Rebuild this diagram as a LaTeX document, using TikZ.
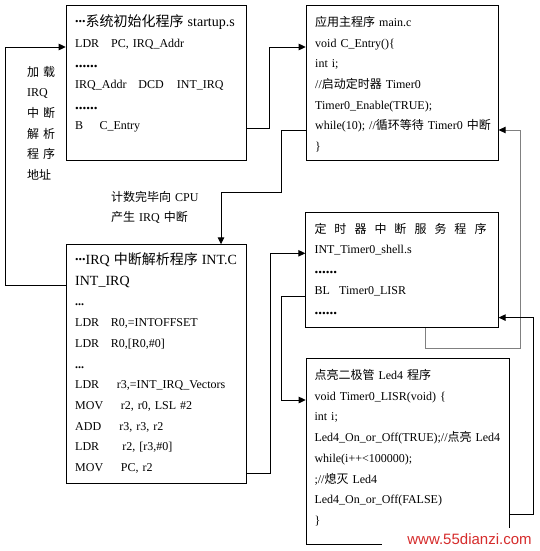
\documentclass[tikz,border=0pt]{standalone}
\usepackage{fontspec}
\setmainfont{Liberation Serif}
\newfontfamily\cjk{Noto Sans CJK SC}
\newfontfamily\webfont{Liberation Sans}
\usetikzlibrary{arrows.meta}

\newcommand{\zh}[1]{{\cjk #1}}
\newcommand{\dotrow}{{\fontsize{15}{20.7}\selectfont\textbf{......}}}
\newcommand{\middots}{\raisebox{4pt}{\textbf{...}}}
\newcommand{\headline}[1]{{\fontsize{14}{20.7}\selectfont #1}}
\definecolor{linegray}{RGB}{128,128,128}
\definecolor{markred}{RGB}{214,44,44}

\begin{document}
\begin{tikzpicture}[
        x=1pt, y=-1pt,
        font=\fontsize{12}{20.7}\selectfont,
        box/.style={
            draw,
            line width=0.9pt,
            anchor=north west,
            inner sep=0pt
        },
        code/.style={
            anchor=base west,
            align=left,
            inner sep=0pt,
            text width=220pt
        },
        arrow/.style={-{Triangle[length=7pt, width=6.5pt]}, line width=0.9pt},
        grayarrow/.style={-{Triangle[length=7pt, width=6.5pt, color=black]}, draw=linegray, line width=0.9pt}
    ]
        \useasboundingbox (0,0) rectangle (539,551);

        \node[box, minimum width=180pt, minimum height=155.3pt] (startup) at (65.7,4.7) {};
        \node[code] (startuptext) at (75,26.5) {\headline{\middots\zh{系统初始化程序} startup.s}\\
            \makebox[36pt][l]{LDR}PC, IRQ\_Addr\\
            \dotrow\\
            \makebox[63.3pt][l]{IRQ\_Addr}\makebox[38.4pt][l]{DCD}INT\_IRQ\\
            \dotrow\\
            \makebox[24.3pt][l]{B}C\_Entry};

        \node[box, minimum width=192pt, minimum height=155.3pt] (mainc) at (305.7,4.7) {};
        \node[code] (maintext) at (315,26.5) {\zh{应用主程序} main.c\\
            void C\_Entry()\{\\
            int i;\\
            //\zh{启动定时器} Timer0\\
            Timer0\_Enable(TRUE);\\
            while(10); //\zh{循环等待} Timer0 \zh{中断}\\
            \}};

        \node[box, minimum width=180pt, minimum height=239pt] (irq) at (65.7,244.3) {};
        \node[code] (irqtext) at (75,264.5) {\headline{\middots IRQ \zh{中断解析程序} INT.C}\\
            \headline{INT\_IRQ}\\
            \textbf{...}\\
            \makebox[35.7pt][l]{LDR}R0,=INTOFFSET\\
            \makebox[35.7pt][l]{LDR}R0,[R0,\#0]\\
            \textbf{...}\\
            \makebox[41.7pt][l]{LDR}r3,=INT\_IRQ\_Vectors\\
            \makebox[45.7pt][l]{MOV}r2, r0, LSL \#2\\
            \makebox[44.3pt][l]{ADD}r3, r3, r2\\
            \makebox[47.3pt][l]{LDR}r2, [r3,\#0]\\
            \makebox[45.7pt][l]{MOV}PC, r2};

        \node[box, minimum width=192.4pt, minimum height=115pt] (timer) at (305.3,212.3) {};
        \node[code, font=\fontsize{12}{20.2}\selectfont] (timertext) at (314.3,233.5) {\zh{\makebox[172pt][s]{定\hfill 时\hfill 器\hfill 中\hfill 断\hfill 服\hfill 务\hfill 程\hfill 序}}\\
            INT\_Timer0\_shell.s\\
            \dotrow\\
            \makebox[24.7pt][l]{BL}Timer0\_LISR\\
            \dotrow};

        \node[box, minimum width=203.6pt, minimum height=185.7pt] (led) at (305.7,358.3) {};
        \node[code] (ledtext) at (314.3,379.5) {\zh{点亮二极管} Led4 \zh{程序}\\
            void Timer0\_LISR(void) \{\\
            int i;\\
            Led4\_On\_or\_Off(TRUE);//\zh{点亮} Led4\\
            while(i++<100000);\\
            ;//\zh{熄灭} Led4\\
            Led4\_On\_or\_Off(FALSE)\\
            \}};

        \node[code, text width=60pt] (loadnote) at (27,76) {\zh{加 载}\\IRQ\\\zh{中 断}\\\zh{解 析}\\\zh{程 序}\\\zh{地址}};
        \node[code, text width=120pt] (countnote) at (111,201) {\zh{计数完毕向} CPU\\\zh{产生} IRQ \zh{中断}};

        \draw[arrow] ([yshift=-40.7pt]irq.north west) -- ++(-60.7,0) |- ([yshift=-42.3pt]startup.north west);
        \draw[arrow] ([yshift=-123.3pt]startup.north east) -- ++(23.3,0) |- ([yshift=-42.3pt]mainc.north west);
        \draw[arrow] ([yshift=-125.3pt]mainc.north west) -- ++(-24,0) -- ++(0,62) -| ([xshift=155.3pt]irq.north west);
        \draw[arrow] ([yshift=11pt]irq.south east) -- ++(23.6,0) |- ([yshift=-41pt]timer.north west);
        \draw[arrow] ([yshift=-84.4pt]timer.north west) -- ++(-23.6,0) |- ([yshift=-41.7pt]led.north west);
        \draw[grayarrow] ([xshift=120.4pt]timer.south west) -- ++(0,20.4) -- ++(95,0) |- ([yshift=-125.3pt]mainc.north east);
        \draw[arrow] ([yshift=30.7pt]led.south east) -- ++(23.4,0) |- ([yshift=10.6pt]timer.south east);

        \fill[white] (382,528) rectangle (539,551);
        \node[anchor=base, inner sep=0pt, text=markred, font=\webfont\fontsize{15}{18}\selectfont] (site) at (469.5,544) {www.55dianzi.com};
    \end{tikzpicture}
\end{document}
